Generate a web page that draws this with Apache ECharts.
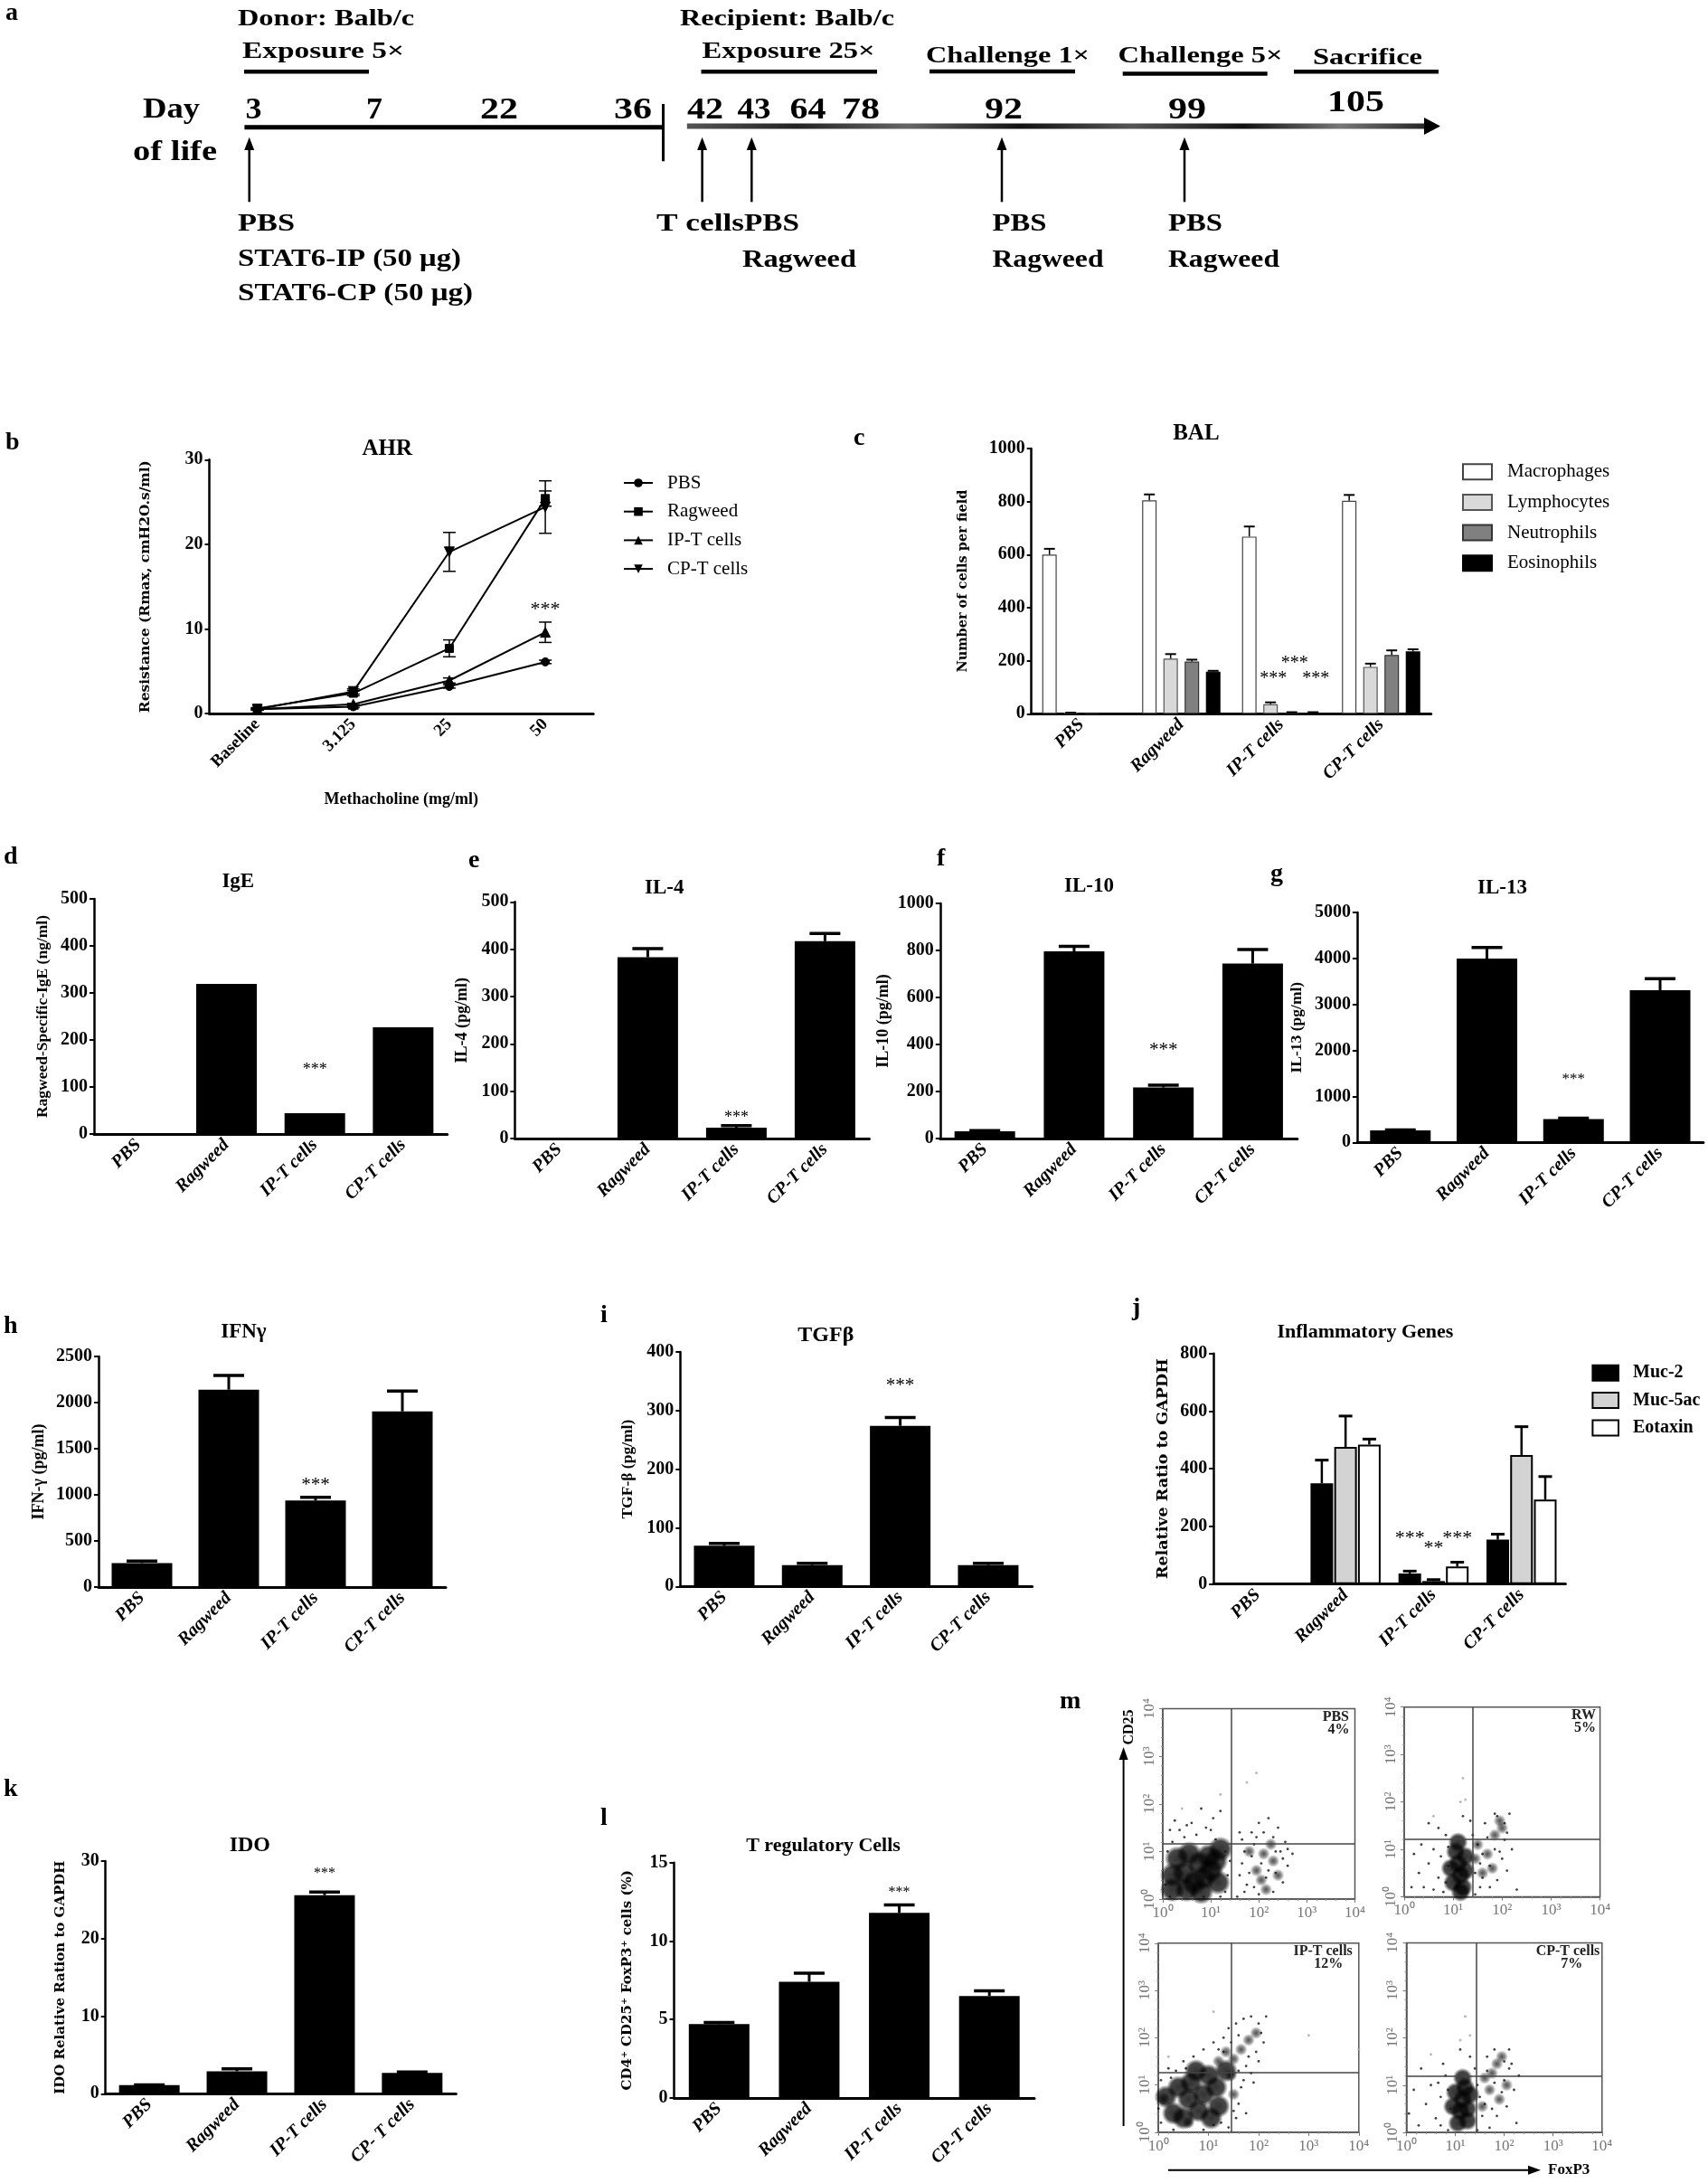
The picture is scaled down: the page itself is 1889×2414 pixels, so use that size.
<!DOCTYPE html>
<html>
<head>
<meta charset="utf-8">
<title>STAT6 figure</title>
<script src="https://cdn.jsdelivr.net/npm/echarts@6.0.0/dist/echarts.min.js"></script>
<style>
html,body{margin:0;padding:0;background:#ffffff;}
#chart{width:1889px;height:2414px;}
</style>
</head>
<body>
<div id="chart"></div>
<script>
// ===================== DATA =====================
const groupLabels = ['PBS', 'Ragweed', 'IP-T cells', 'CP-T cells'];
const idoLabels = ['PBS', 'Ragweed', 'IP-T cells', 'CP- T cells'];
const doseLabels = ['Baseline', '3.125', '25', '50'];

// b: AHR
const ahrNames = ['PBS', 'Ragweed', 'IP-T cells', 'CP-T cells'];
const ahrPBS = [0.5, 0.8, 3.2, 6.1];
const ahrPBSErr = [0.1, 0.1, 0.2, 0.2];
const ahrRagweed = [0.6, 2.4, 7.7, 25.4];
const ahrRagweedErr = [0.1, 0.3, 1.0, 0.9];
const ahrIPT = [0.5, 1.1, 3.9, 9.6];
const ahrIPTErr = [0.1, 0.1, 0.3, 1.2];
const ahrCPT = [0.5, 2.6, 19.1, 24.4];
const ahrCPTErr = [0.1, 0.3, 2.3, 3.1];
const ahrStars = [[3, 0, 12.7, '***']];

// c: BAL
const balNames = ['Macrophages', 'Lymphocytes', 'Neutrophils', 'Eosinophils'];
const balMac = [600, 805, 668, 803];
const balMacErr = [22, 22, 38, 22];
const balLym = [3, 208, 36, 177];
const balLymErr = [1, 17, 7, 12];
const balNeu = [0, 197, 4, 222];
const balNeuErr = [0, 7, 2, 17];
const balEos = [0, 159, 4, 235];
const balEosErr = [0, 3, 2, 8];
const balStars = [[2, 1, 145, '***'], [2, 2, 202, '***'], [2, 3, 145, '***']];

// d - i, k, l: single bars
const igeVals = [0, 319, 44, 227];
const il4Vals = [0, 383, 23, 417];
const il4Err = [0, 18, 4, 16];
const il10Vals = [31, 796, 217, 744];
const il10Err = [3, 21, 10, 60];
const il13Vals = [262, 3997, 505, 3309];
const il13Err = [10, 240, 20, 250];
const ifngVals = [261, 2140, 938, 1905];
const ifngErr = [20, 155, 36, 220];
const tgfbVals = [69.4, 36.5, 274, 36.5];
const tgfbErr = [4, 3, 14, 3];
const idoVals = [1.1, 2.9, 25.6, 2.7];
const idoErr = [0.05, 0.3, 0.4, 0.1];
const tregVals = [4.7, 7.4, 11.8, 6.5];
const tregErr = [0.1, 0.55, 0.5, 0.32];

// j: inflammatory genes
const geneNames = ['Muc-2', 'Muc-5ac', 'Eotaxin'];
const muc2 = [2, 350, 37, 154];
const muc2Err = [0, 80, 8, 19];
const muc5ac = [2, 476, 10.5, 448];
const muc5acErr = [0, 107, 5, 98];
const eotaxin = [2, 484, 61, 293];
const eotaxinErr = [0, 19, 15, 80];
const geneStars = [[2, 0, 172, '***'], [2, 1, 138, '**'], [2, 2, 172, '***']];

// m: flow cytometry (log10 decades: [FoxP3, CD25])
const flowTicks = ['10\u2070', '10\u00b9', '10\u00b2', '10\u00b3', '10\u2074'];
const pbsCore = [[0.45,0.55],[0.75,0.75],[1.0,0.6],[0.65,0.35],[0.95,0.9],[0.3,0.85],[1.15,0.35],[0.5,0.2],[0.85,0.45],[0.2,0.5],[0.55,0.95],[1.1,0.8],[0.8,0.15],[0.2,0.2],[1.2,1.05]];
const pbsMid = [[2.1,0.95],[2.3,0.8],[1.95,0.6],[2.25,1.15],[2.05,0.4],[1.8,1.0],[2.4,0.5],[2.15,0.2]];
const pbsDots = [[0.05,0.3],[0.1,1.0],[0.2,1.2],[0.35,1.45],[0.5,1.55],[0.7,1.35],[0.9,1.5],[1.1,1.25],[1.3,1.0],[1.35,0.5],[1.3,0.15],[1.2,0.05],[0.85,0.05],[0.6,1.6],[0.25,1.65],[1.05,1.7],[0.8,1.9],[1.2,1.85],[0.15,0.05],[1.4,0.8],[1.6,0.5],[1.7,1.0],[1.75,0.3],[1.85,1.4],[2.0,1.6],[2.2,1.7],[2.4,1.5],[2.55,1.2],[2.6,0.7],[2.5,0.35],[2.3,0.15],[2.0,0.1],[1.85,0.9],[2.45,1.0],[2.15,0.45],[2.7,0.95],[1.65,1.25],[1.55,0.05],[1.9,1.15],[2.35,0.55],[1.65,0.75],[1.7,0.15],[1.8,0.55],[1.95,1.3],[2.1,1.4],[2.3,1.3],[2.5,0.85],[2.6,1.05],[2.2,0.6],[1.9,0.25],[2.05,0.75],[2.35,1.0],[1.6,1.4],[0.45,1.3],[0.15,1.45],[1.0,1.45]];
const pbsOut = [[1.75,2.45],[1.95,2.65],[1.2,2.2],[0.4,1.9]];
const rwCore = [[1.1,0.7],[1.15,0.45],[1.05,0.95],[1.2,0.2],[1.0,0.3],[1.25,0.85],[1.1,1.15],[0.95,0.6],[1.25,0.55],[1.15,0.1]];
const rwMid = [[1.95,1.6],[2.0,1.45],[1.7,0.9],[1.8,0.6],[1.5,1.1],[1.85,1.3],[1.6,0.5],[1.45,0.8]];
const rwDots = [[0.2,0.9],[0.3,0.5],[0.4,0.2],[0.5,0.7],[0.6,1.0],[0.7,0.4],[0.8,0.1],[0.85,1.3],[0.7,1.45],[0.9,0.65],[1.4,1.3],[1.5,1.1],[1.55,0.7],[1.6,0.4],[1.7,1.25],[1.75,0.2],[1.85,1.0],[1.9,0.35],[2.0,0.8],[2.05,1.2],[2.1,0.55],[2.2,1.0],[2.3,0.15],[1.35,1.6],[1.2,1.7],[0.5,1.55],[0.15,0.2],[1.45,0.05],[2.15,1.75],[1.85,1.75],[1.6,0.9],[1.45,0.5],[2.05,1.55],[1.9,1.7],[0.75,0.85],[0.85,0.3],[0.6,0.15],[0.9,1.05],[1.65,1.55],[1.75,0.65],[1.95,0.95],[2.1,1.35],[1.55,0.2],[0.35,1.1]];
const rwOut = [[1.2,2.5],[1.15,2.0],[1.25,2.05],[0.6,1.7]];
const iptCore = [[0.9,0.8],[0.6,0.7],[1.15,0.95],[0.8,0.45],[1.2,0.55],[0.4,0.95],[1.0,1.2],[0.3,0.4],[1.35,1.3],[0.65,1.05],[0.5,0.3],[1.05,0.3],[0.15,0.75],[0.75,1.3]];
const iptMid = [[1.5,1.55],[1.65,1.75],[1.8,1.95],[1.45,1.2],[1.2,1.5],[0.1,0.7],[0.6,0.2],[1.5,0.8],[1.95,2.1],[1.35,1.7]];
const iptDots = [[0.05,0.2],[0.05,1.1],[0.2,1.35],[0.3,0.05],[0.5,1.5],[0.7,1.6],[0.9,1.75],[1.1,1.9],[1.3,2.0],[1.4,2.2],[1.55,2.3],[1.7,2.4],[1.85,2.45],[2.0,2.3],[2.05,2.1],[1.95,1.7],[1.75,1.4],[1.7,1.1],[1.85,1.25],[1.6,0.6],[1.75,0.4],[1.55,0.3],[1.4,0.1],[1.1,0.15],[0.9,0.05],[1.3,1.7],[2.15,2.45],[1.6,2.05],[1.9,1.05],[0.35,1.3],[0.0,0.5],[1.25,0.2],[1.6,1.3],[1.8,1.6],[2.1,1.9],[1.45,1.9],[1.65,0.95],[1.5,0.45],[0.55,1.35],[0.25,1.15],[1.2,1.75],[2.0,1.5]];
const iptOut = [[3.0,2.05],[4.0,1.75],[1.1,2.55],[0.2,1.6]];
const cptCore = [[1.15,0.7],[1.1,0.45],[1.2,0.95],[1.05,0.2],[1.25,0.5],[1.0,0.85],[1.15,1.15],[0.95,0.55],[1.25,0.25],[1.3,0.8]];
const cptMid = [[1.95,1.6],[1.85,1.45],[1.7,0.9],[1.9,0.7],[1.6,1.15],[1.75,1.25],[1.55,0.55],[2.05,1.0]];
const cptDots = [[0.05,0.4],[0.15,0.9],[0.25,0.15],[0.4,0.6],[0.5,1.0],[0.6,0.3],[0.7,0.75],[0.8,1.2],[0.85,0.05],[0.9,0.5],[0.75,1.45],[1.4,1.35],[1.5,0.75],[1.55,0.35],[1.65,1.3],[1.7,0.1],[1.8,1.05],[1.85,0.35],[2.0,1.1],[2.05,0.55],[2.1,1.35],[2.2,0.9],[2.25,0.2],[1.3,1.6],[1.1,1.75],[2.1,1.75],[1.8,1.75],[0.3,1.35],[1.45,0.05],[2.3,1.2],[1.6,0.6],[2.0,1.5],[0.65,1.05],[0.85,0.9],[0.7,0.15],[1.75,0.5],[1.95,0.85],[1.45,1.0],[1.65,1.6],[2.15,1.45]];
const cptOut = [[1.2,2.45],[1.1,1.95],[1.3,2.05],[0.5,1.65]];
const flowGateX = [1.43, 1.4, 1.45, 1.42];
const flowGateY = [1.17, 1.215, 1.27, 1.2];
const flowNames = ['PBS', 'RW', 'IP-T cells', 'CP-T cells'];
const flowPct = ['4%', '5%', '12%', '7%'];

// a: timeline texts
const timelineDays = ['3', '7', '22', '36', '42', '43', '64', '78', '92', '99', '105'];
const timelineHeaders = ['Donor: Balb/c', 'Exposure 5\u00d7', 'Recipient: Balb/c', 'Exposure 25\u00d7', 'Challenge 1\u00d7', 'Challenge 5\u00d7', 'Sacrifice'];
const timelineEvents = ['PBS', 'STAT6-IP (50 \u03bcg)', 'STAT6-CP (50 \u03bcg)', 'T cells', 'PBS', 'Ragweed', 'PBS', 'Ragweed', 'PBS', 'Ragweed'];

// ===================== LAYOUT =====================
const SERIF = '"Liberation Serif", "Times New Roman", serif';
const WIDE = '"DejaVu Serif", serif';
const G = {
  b: {left: 231.5, top: 508.3, width: 424.7, height: 280.7},
  c: {left: 1140.7, top: 496, width: 442, height: 293.3},
  d: {left: 104, top: 994, width: 390.7, height: 260},
  e: {left: 569.4, top: 997.3, width: 392, height: 261.7},
  f: {left: 1039.8, top: 999, width: 395, height: 260},
  g: {left: 1500.9, top: 1009, width: 383, height: 254.3},
  h: {left: 109, top: 1500, width: 384, height: 255},
  i: {left: 752.3, top: 1495, width: 389.3, height: 259.3},
  j: {left: 1342.2, top: 1496.7, width: 389.2, height: 255},
  k: {left: 116.7, top: 2057.9, width: 387.6, height: 257.4},
  l: {left: 745.5, top: 2059.8, width: 398.5, height: 260},
  m1: {left: 1286, top: 1889.5, width: 212.5, height: 210.5},
  m2: {left: 1553, top: 1887.7, width: 216.6, height: 209.7},
  m3: {left: 1281.2, top: 2148.8, width: 221.6, height: 209},
  m4: {left: 1555.5, top: 2148.4, width: 216.3, height: 209.8}
};

const grids = [], xAxes = [], yAxes = [], series = [], legends = [], gfx = [];
const mctx = document.createElement('canvas').getContext('2d');
function fitScale(text, size, weight, family, target) {
  mctx.font = weight + ' ' + size + 'px ' + family;
  const w = mctx.measureText(text).width;
  return w > 0 ? target / w : 1;
}
function txt(text, x, y, size, o) {
  o = o || {};
  const align = o.align || 'center', valign = o.valign || 'middle';
  return {type: 'text', x: x, y: y, rotation: o.rot || 0, scaleX: o.sx || 1, silent: true, z: 10,
    style: {text: text, fill: o.color || '#000',
      font: (o.italic ? 'italic ' : '') + (o.weight || 'bold') + ' ' + size + 'px ' + (o.family || SERIF),
      textAlign: align, textVerticalAlign: valign, align: align, verticalAlign: valign}};
}
function seg(x1, y1, x2, y2, w, color) {
  return {type: 'line', silent: true, z: 10, shape: {x1: x1, y1: y1, x2: x2, y2: y2}, style: {stroke: color || '#000', lineWidth: w}};
}
function poly(points, color) {
  return {type: 'polygon', silent: true, z: 10, shape: {points: points}, style: {fill: color || '#000'}};
}
function addGrid(key) {
  const g = G[key];
  grids.push({left: g.left, top: g.top, width: g.width, height: g.height, containLabel: false, outerBoundsMode: 'none'});
  return grids.length - 1;
}
function plain(v) { return String(v); }
function yAx(gi, max, step, name, nameGap, nameFont, nameSize) {
  return {type: 'value', gridIndex: gi, min: 0, max: max, interval: step,
    name: name, nameLocation: 'middle', nameRotate: 90, nameGap: nameGap,
    nameTextStyle: {fontFamily: nameFont, fontWeight: 'bold', fontSize: nameSize, color: '#000'},
    axisLine: {show: true, lineStyle: {color: '#000', width: 2.5}},
    axisTick: {show: true, length: 5, lineStyle: {color: '#000', width: 2}},
    splitLine: {show: false},
    axisLabel: {formatter: plain, fontFamily: SERIF, fontWeight: 'bold', fontSize: 20, color: '#000', margin: 7}};
}
function xAx(gi, cats, italic, size) {
  return {type: 'category', gridIndex: gi, data: cats,
    axisLine: {show: true, onZero: false, lineStyle: {color: '#000', width: 3}},
    axisTick: {show: false},
    splitLine: {show: false},
    axisLabel: {interval: 0, rotate: 45, fontFamily: SERIF, fontWeight: 'bold', fontStyle: italic ? 'italic' : 'normal',
      fontSize: size || 20, color: '#000', margin: 9}};
}
function barOffset(o, idx) {
  if (!o.n || o.n <= 1) return 0;
  const total = o.n * o.barW + (o.n - 1) * o.gap * o.barW;
  return -total / 2 + idx * o.barW * (1 + o.gap) + o.barW / 2;
}
function errSeries(gi, vals, errs, o, barIdx) {
  return {type: 'custom', name: 'err', xAxisIndex: gi, yAxisIndex: gi, z: 5, silent: true,
    data: vals.map(function (v, i) { return [i, v, errs[i]]; }),
    renderItem: function (params, api) {
      const i = api.value(0), v = api.value(1), e = api.value(2);
      if (!e) return;
      const p = api.coord([i, v]);
      const pu = api.coord([i, v + e]);
      const x = p[0] + barOffset(o, barIdx || 0);
      const ch = [
        {type: 'line', shape: {x1: x, y1: p[1], x2: x, y2: pu[1]}, style: {stroke: '#000', lineWidth: o.lw}},
        {type: 'line', shape: {x1: x - o.capW / 2, y1: pu[1], x2: x + o.capW / 2, y2: pu[1]}, style: {stroke: '#000', lineWidth: o.capLw || o.lw}}
      ];
      if (o.both) {
        const pd = api.coord([i, v - e]);
        ch.push({type: 'line', shape: {x1: x, y1: p[1], x2: x, y2: pd[1]}, style: {stroke: '#000', lineWidth: o.lw}});
        ch.push({type: 'line', shape: {x1: x - o.capW / 2, y1: pd[1], x2: x + o.capW / 2, y2: pd[1]}, style: {stroke: '#000', lineWidth: o.capLw || o.lw}});
      }
      return {type: 'group', children: ch};
    }};
}
function starSeries(gi, items, o) {
  return {type: 'custom', name: 'stars', xAxisIndex: gi, yAxisIndex: gi, z: 6, silent: true,
    data: items.map(function (it) { return [it[0], it[2], it[1]]; }),
    renderItem: function (params, api) {
      const it = items[params.dataIndex];
      const p = api.coord([api.value(0), api.value(1)]);
      const x = p[0] + barOffset(o, api.value(2)) + (o.dx || 0);
      return {type: 'text', x: x, y: p[1] + o.size * 0.2,
        style: {text: it[3], font: 'normal ' + o.size + 'px ' + SERIF, fill: '#000',
          textAlign: 'center', textVerticalAlign: 'middle', align: 'center', verticalAlign: 'middle'}};
    }};
}

// ---------- panel b: AHR ----------
(function () {
  const gi = addGrid('b');
  xAxes.push(Object.assign(xAx(gi, doseLabels, false, 19), {name: 'Methacholine (mg/ml)', nameLocation: 'middle', nameGap: 86,
    nameTextStyle: {fontFamily: SERIF, fontWeight: 'bold', fontSize: 18, color: '#000'}}));
  yAxes.push(yAx(gi, 30, 10, 'Resistance (Rmax, cmH2O.s/ml)', 63, WIDE, 15.5));
  const sets = [[ahrPBS, ahrPBSErr, 'circle', 9], [ahrRagweed, ahrRagweedErr, 'rect', 9],
    [ahrIPT, ahrIPTErr, 'triangle', 11], [ahrCPT, ahrCPTErr, 'path://M0,0L2,0L1,1.8Z', 11]];
  sets.forEach(function (s, k) {
    series.push({type: 'line', name: ahrNames[k], xAxisIndex: gi, yAxisIndex: gi, data: s[0],
      symbol: s[2], symbolSize: s[3], showSymbol: true, z: 4,
      lineStyle: {color: '#000', width: 2}, itemStyle: {color: '#000', borderColor: '#000'}});
    series.push(errSeries(gi, s[0], s[1], {capW: 14, lw: 1.5, both: true}));
  });
  series.push(starSeries(gi, ahrStars, {size: 22}));
  legends.push({orient: 'vertical', left: 684, top: 518.5, itemWidth: 32, itemHeight: 12, itemGap: 10.7,
    data: ahrNames, selectedMode: false,
    textStyle: {fontFamily: SERIF, fontSize: 21, color: '#000', lineHeight: 21, padding: [0, 0, 0, 11]}});
})();

// ---------- panel c: BAL ----------
(function () {
  const gi = addGrid('c');
  xAxes.push(xAx(gi, groupLabels, true, 20));
  yAxes.push(yAx(gi, 1000, 200, 'Number of cells per field', 68, WIDE, 14.5));
  const o = {n: 4, barW: 16, gap: 0.47, capW: 12, lw: 1.5, capLw: 2};
  const vals = [balMac, balLym, balNeu, balEos], errs = [balMacErr, balLymErr, balNeuErr, balEosErr];
  const fills = ['#ffffff', '#d9d9d9', '#808080', '#000000'], borders = ['#444', '#555', '#333', '#000'];
  vals.forEach(function (v, k) {
    series.push({type: 'bar', name: balNames[k], xAxisIndex: gi, yAxisIndex: gi, data: v, barWidth: 16, barGap: '47%', z: 2,
      itemStyle: {color: fills[k], borderColor: borders[k], borderWidth: 1.2}});
  });
  vals.forEach(function (v, k) { series.push(errSeries(gi, v, errs[k], o, k)); });
  series.push(starSeries(gi, balStars, {n: 4, barW: 16, gap: 0.47, size: 20, dx: 3}));
  legends.push({orient: 'vertical', left: 1612, top: 506.2, itemWidth: 32, itemHeight: 17, itemGap: 12.7, icon: 'rect',
    data: balNames, selectedMode: false,
    textStyle: {fontFamily: SERIF, fontSize: 21, color: '#000', lineHeight: 21, padding: [0, 0, 0, 12]}});
})();

// ---------- single bar panels ----------
const singles = [
  {g: 'd', cats: groupLabels, vals: igeVals, errs: null, max: 500, step: 100, name: 'Ragweed-Specific-IgE (ng/ml)', nameFont: SERIF, nameSize: 17.5, nameGap: 48, star: 142, starSize: 18, title: 'IgE'},
  {g: 'e', cats: groupLabels, vals: il4Vals, errs: il4Err, max: 500, step: 100, name: 'IL-4 (pg/ml)', nameFont: SERIF, nameSize: 18, nameGap: 49, star: 50, starSize: 18, title: 'IL-4'},
  {g: 'f', cats: groupLabels, vals: il10Vals, errs: il10Err, max: 1000, step: 200, name: 'IL-10 (pg/ml)', nameFont: SERIF, nameSize: 18, nameGap: 53, star: 393, starSize: 21, title: 'IL-10'},
  {g: 'g', cats: groupLabels, vals: il13Vals, errs: il13Err, max: 5000, step: 1000, name: 'IL-13 (pg/ml)', nameFont: SERIF, nameSize: 17.5, nameGap: 57, star: 1441, starSize: 17, title: 'IL-13'},
  {g: 'h', cats: groupLabels, vals: ifngVals, errs: ifngErr, max: 2500, step: 500, name: 'IFN-\u03b3 (pg/ml)', nameFont: SERIF, nameSize: 18, nameGap: 57, star: 1147, starSize: 21, title: 'IFN\u03b3'},
  {g: 'i', cats: groupLabels, vals: tgfbVals, errs: tgfbErr, max: 400, step: 100, name: 'TGF-\u03b2 (pg/ml)', nameFont: SERIF, nameSize: 17.5, nameGap: 49, star: 349, starSize: 21, title: 'TGF\u03b2'},
  {g: 'k', cats: idoLabels, vals: idoVals, errs: idoErr, max: 30, step: 10, name: 'IDO Relative Ration to GAPDH', nameFont: WIDE, nameSize: 15, nameGap: 42, star: 28.8, starSize: 16, title: 'IDO'},
  {g: 'l', cats: groupLabels, vals: tregVals, errs: tregErr, max: 15, step: 5, name: 'CD4\u207a CD25\u207a FoxP3\u207a cells (%)', nameFont: WIDE, nameSize: 15, nameGap: 44, star: 13.3, starSize: 16, title: 'T regulatory Cells'}
];
singles.forEach(function (p) {
  const gi = addGrid(p.g);
  xAxes.push(xAx(gi, p.cats, true, 20));
  yAxes.push(yAx(gi, p.max, p.step, p.name, p.nameGap, p.nameFont, p.nameSize));
  series.push({type: 'bar', name: p.title, xAxisIndex: gi, yAxisIndex: gi, data: p.vals, barWidth: 67, z: 2,
    itemStyle: {color: '#000'}});
  if (p.errs) series.push(errSeries(gi, p.vals, p.errs, {capW: 34, lw: 3, capLw: 3.5}));
  series.push(starSeries(gi, [[2, 0, p.star, '***']], {size: p.starSize}));
});

// ---------- panel j: inflammatory genes ----------
(function () {
  const gi = addGrid('j');
  xAxes.push(xAx(gi, groupLabels, true, 20));
  yAxes.push(yAx(gi, 800, 200, 'Relative Ratio to GAPDH', 47, WIDE, 17.5));
  const vals = [muc2, muc5ac, eotaxin], errs = [muc2Err, muc5acErr, eotaxinErr];
  const fills = ['#000000', '#d3d3d3', '#ffffff'];
  vals.forEach(function (v, k) {
    series.push({type: 'bar', name: geneNames[k], xAxisIndex: gi, yAxisIndex: gi, data: v, barWidth: 25, barGap: '5%', z: 2,
      itemStyle: {color: fills[k], borderColor: '#000', borderWidth: 2}});
  });
  const o = {n: 3, barW: 25, gap: 0.05, capW: 15, lw: 2.5, capLw: 3};
  vals.forEach(function (v, k) { series.push(errSeries(gi, v, errs[k], o, k)); });
  series.push(starSeries(gi, geneStars, {n: 3, barW: 25, gap: 0.05, size: 22}));
  legends.push({orient: 'vertical', left: 1755.4, top: 1503.3, itemWidth: 28.6, itemHeight: 17, itemGap: 10.3, icon: 'rect',
    data: geneNames, selectedMode: false,
    textStyle: {fontFamily: SERIF, fontWeight: 'bold', fontSize: 20, color: '#000', lineHeight: 20, padding: [0, 0, 0, 11]}});
})();

// ---------- panel m: flow cytometry ----------
const flowSets = [
  ['m1', pbsCore, pbsMid, pbsDots, pbsOut, 28],
  ['m2', rwCore, rwMid, rwDots, rwOut, 22],
  ['m3', iptCore, iptMid, iptDots, iptOut, 26],
  ['m4', cptCore, cptMid, cptDots, cptOut, 22]
];
const blob = {type: 'radial', x: 0.5, y: 0.5, r: 0.5, colorStops: [
  {offset: 0, color: 'rgba(0,0,0,1)'}, {offset: 0.65, color: 'rgba(0,0,0,0.9)'}, {offset: 1, color: 'rgba(0,0,0,0)'}]};
const blobMid = {type: 'radial', x: 0.5, y: 0.5, r: 0.5, colorStops: [
  {offset: 0, color: 'rgba(0,0,0,0.85)'}, {offset: 0.5, color: 'rgba(0,0,0,0.55)'}, {offset: 1, color: 'rgba(0,0,0,0)'}]};
flowSets.forEach(function (f, k) {
  const g = G[f[0]];
  grids.push({left: g.left, top: g.top, width: g.width, height: g.height, show: true, borderColor: '#555', borderWidth: 1.5,
    backgroundColor: 'transparent', containLabel: false, outerBoundsMode: 'none'});
  const gi = grids.length - 1;
  const axisCommon = {gridIndex: gi, type: 'value', min: 0, max: 4, interval: 1,
    axisLine: {show: true, lineStyle: {color: '#555', width: 1.5}},
    axisTick: {show: true, length: 4, lineStyle: {color: '#777', width: 1}},
    minorTick: {show: true, splitNumber: 5, length: 2, lineStyle: {color: '#999'}},
    splitLine: {show: false}};
  xAxes.push(Object.assign({}, axisCommon, {axisLabel: {formatter: function (v) { return flowTicks[v]; },
    fontFamily: SERIF, fontSize: 17, color: '#777', margin: 7}}));
  yAxes.push(Object.assign({}, axisCommon, {axisLabel: {formatter: function (v) { return flowTicks[v]; }, rotate: 90,
    fontFamily: SERIF, fontSize: 17, color: '#777', margin: 6}}));
  series.push({type: 'scatter', name: 'core' + k, xAxisIndex: gi, yAxisIndex: gi, data: f[1], symbolSize: f[5], z: 3,
    itemStyle: {color: blob}, silent: true});
  series.push({type: 'scatter', name: 'mid' + k, xAxisIndex: gi, yAxisIndex: gi, data: f[2], symbolSize: 14, z: 3,
    itemStyle: {color: blobMid}, silent: true});
  series.push({type: 'scatter', name: 'dots' + k, xAxisIndex: gi, yAxisIndex: gi, data: f[3], symbolSize: 2.8, z: 4,
    itemStyle: {color: '#111'}, silent: true,
    markLine: {silent: true, symbol: 'none', label: {show: false}, animation: false,
      lineStyle: {color: '#444', width: 1.5, type: 'solid'},
      data: [{xAxis: flowGateX[k]}, {yAxis: flowGateY[k]}]}});
  series.push({type: 'scatter', name: 'out' + k, xAxisIndex: gi, yAxisIndex: gi, data: f[4], symbolSize: 3, z: 4,
    itemStyle: {color: '#aaa'}, silent: true});
  const right = g.left + g.width;
  const rInset = [6.5, 4.6, 7, 2.5][k];
  gfx.push(txt(flowNames[k], right - rInset, g.top + 9.5, 16, {align: 'right', color: '#222'}));
  const pctRight = [right - 6, right - 4.6, right - 17.5, right - 21.5][k];
  gfx.push(txt(flowPct[k], pctRight, g.top + 23.5, 16, {align: 'right', color: '#222'}));
});
// m axes arrows
gfx.push(seg(1242.6, 2351, 1242.6, 1944, 2));
gfx.push(poly([[1237.6, 1946], [1242.6, 1932], [1247.6, 1946]]));
gfx.push(txt('CD25', 1249, 1910, 16, {rot: Math.PI / 2}));
gfx.push(seg(1292, 2399.8, 1693, 2399.8, 2));
gfx.push(poly([[1690, 2394.8], [1704, 2399.8], [1690, 2404.8]]));
gfx.push(txt('FoxP3', 1712, 2399.8, 17, {align: 'left'}));

// ---------- titles and panel letters ----------
const titles = [['AHR', 428.3, 496.7, 25], ['BAL', 1322.9, 480, 25], ['IgE', 263.3, 975, 23], ['IL-4', 734.7, 981.7, 23],
  ['IL-10', 1204.5, 980, 23], ['IL-13', 1661.4, 981.7, 23], ['IFN\u03b3', 269.4, 1473, 23], ['TGF\u03b2', 913.3, 1476.7, 24],
  ['Inflammatory Genes', 1509.9, 1473.3, 22], ['IDO', 276.3, 2040.4, 24], ['T regulatory Cells', 910.5, 2041.2, 22]];
titles.forEach(function (t) { gfx.push(txt(t[0], t[1], t[2], t[3])); });
const letters = [['a', 6, 15], ['b', 6, 490], ['c', 944, 485], ['d', 4, 948], ['e', 518, 952], ['f', 1036, 950], ['g', 1405, 967],
  ['h', 4, 1467], ['i', 664, 1455], ['j', 1252, 1447], ['k', 4, 1979], ['l', 664, 2011], ['m', 1172, 1882]];
letters.forEach(function (t) { gfx.push(txt(t[0], t[1], t[2], 28, {align: 'left'})); });

// ---------- panel a: timeline ----------
(function () {
  const headerPos = [[263, 22, 195], [268, 58, 179], [752, 22, 237], [776.6, 58, 191], [1024, 63, 181], [1236.5, 63, 182], [1452, 65, 121]];
  timelineHeaders.forEach(function (t, i) {
    const p = headerPos[i];
    gfx.push(txt(t, p[0], p[1], 25, {align: 'left', sx: fitScale(t, 25, 'bold', SERIF, p[2])}));
  });
  [[270, 408, 79.3], [775.5, 970, 79.3], [1028, 1189, 79], [1241.7, 1401.7, 81.5], [1431, 1591, 79.3]].forEach(function (b) {
    gfx.push(seg(b[0], b[2], b[1], b[2], 4.5));
  });
  const dayX = [280.5, 414, 552, 700, 780, 834, 893.4, 952, 1110, 1313, 1499.5];
  const dayW = [18, 18, 42, 42, 40, 37, 40, 42, 42, 42, 63];
  timelineDays.forEach(function (d, i) {
    gfx.push(txt(d, dayX[i], i === 10 ? 114 : 122, 34, {sx: fitScale(d, 34, 'bold', SERIF, dayW[i])}));
  });
  gfx.push(txt('Day', 158, 122, 32, {align: 'left', sx: fitScale('Day', 32, 'bold', SERIF, 63)}));
  gfx.push(txt('of life', 147, 169, 32, {align: 'left', sx: fitScale('of life', 32, 'bold', SERIF, 93)}));
  gfx.push(seg(270.4, 140.7, 733.5, 140.7, 5));
  gfx.push(seg(733.5, 115, 733.5, 178.3, 3));
  gfx.push({type: 'line', silent: true, z: 10, shape: {x1: 759.8, y1: 139.5, x2: 1578, y2: 139.5},
    style: {lineWidth: 6, stroke: {type: 'linear', x: 0, y: 0, x2: 1, y2: 0, colorStops: [
      {offset: 0, color: '#555'}, {offset: 0.15, color: '#222'}, {offset: 0.3, color: '#666'}, {offset: 0.45, color: '#111'},
      {offset: 0.6, color: '#555'}, {offset: 0.75, color: '#111'}, {offset: 0.88, color: '#777'}, {offset: 1, color: '#222'}]}}});
  gfx.push(poly([[1575, 130], [1593, 139.5], [1575, 149]]));
  [275.7, 776.6, 831.3, 1108, 1310].forEach(function (x) {
    gfx.push(seg(x, 223.3, x, 162, 2.5));
    gfx.push(poly([[x - 5.5, 166], [x, 151.7], [x + 5.5, 166]]));
  });
  const evPos = [[263, 248, 63], [263, 287, 247], [263, 325, 260], [726, 248, 97], [823, 248, 61], [821, 288, 126],
    [1097.5, 248, 60], [1097.5, 288, 123], [1292, 248, 60], [1292, 288, 123]];
  timelineEvents.forEach(function (t, i) {
    const p = evPos[i];
    gfx.push(txt(t, p[0], p[1], 27, {align: 'left', sx: fitScale(t, 27, 'bold', SERIF, p[2])}));
  });
})();

const chart = echarts.init(document.getElementById('chart'), null, {renderer: 'canvas', width: 1889, height: 2414});
chart.setOption({
  backgroundColor: '#ffffff',
  animation: false,
  grid: grids,
  xAxis: xAxes,
  yAxis: yAxes,
  legend: legends,
  series: series,
  graphic: {elements: gfx}
});
</script>
</body>
</html>
